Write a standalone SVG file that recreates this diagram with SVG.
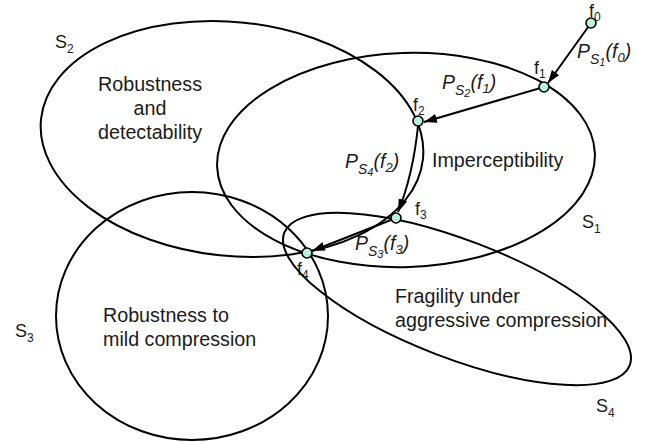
<svg xmlns="http://www.w3.org/2000/svg" width="645" height="442" viewBox="0 0 645 442">
<style>
.set{fill:none;stroke:#000;stroke-width:2}
.t{font-family:"Liberation Sans",Arial,sans-serif;font-size:19.7px;fill:#1a1a1a}
.lab{font-family:"Liberation Sans",Arial,sans-serif;font-size:18px;fill:#1a1a1a}
.p{font-family:"Liberation Sans",Arial,sans-serif;font-size:19.5px;font-style:italic;fill:#1a1a1a}
.arr{fill:none;stroke:#000;stroke-width:2}
.dot{fill:#b8f0dc;stroke:#000;stroke-width:1.6}
</style>
<defs>
<marker id="ah" markerUnits="userSpaceOnUse" markerWidth="14" markerHeight="10" refX="13" refY="4.5" orient="auto">
<path d="M0,0 L13,4.5 L0,9 z" fill="#000"/>
</marker>
</defs>
<g id="S2"><ellipse class="set" cx="232" cy="139" rx="192" ry="117" transform="rotate(6 232 139)"/>
<text class="lab" x="55" y="48">S<tspan font-size="12" dy="5">2</tspan></text>
<text class="t" text-anchor="middle"><tspan x="150" y="91">Robustness</tspan><tspan x="150" y="115">and</tspan><tspan x="150" y="139">detectability</tspan></text></g>
<g id="S1"><ellipse class="set" cx="406" cy="160" rx="189" ry="107" transform="rotate(-2 406 160)"/>
<text class="lab" x="582" y="228">S<tspan font-size="12" dy="5">1</tspan></text>
<text class="t" x="432" y="167">Imperceptibility</text></g>
<g id="S3"><ellipse class="set" cx="192" cy="316" rx="136" ry="124"/>
<text class="lab" x="15" y="337">S<tspan font-size="12" dy="5">3</tspan></text>
<text class="t"><tspan x="103" y="322">Robustness to</tspan><tspan x="103" y="346">mild compression</tspan></text></g>
<g id="S4"><ellipse class="set" cx="457" cy="299" rx="185" ry="59" transform="rotate(21 457 299)"/>
<text class="lab" x="596" y="412">S<tspan font-size="12" dy="5">4</tspan></text>
<text class="t"><tspan x="395" y="303">Fragility under</tspan><tspan x="395" y="327">aggressive compression</tspan></text></g>
<g id="connectors">
<line class="arr" x1="591" y1="23" x2="548" y2="83" marker-end="url(#ah)"/>
<line class="arr" x1="544" y1="87" x2="424" y2="122" marker-end="url(#ah)"/>
<path class="arr" d="M418,126 Q413,175 398,212" marker-end="url(#ah)"/>
<line class="arr" x1="396" y1="218" x2="312" y2="251" marker-end="url(#ah)"/>
<text class="p" x="577" y="58">P<tspan font-size="14" dy="6">S</tspan><tspan font-size="11" dy="2">1</tspan><tspan dy="-8">(f</tspan><tspan font-size="13" dy="4">0</tspan><tspan dy="-4">)</tspan></text>
<text class="p" x="442" y="89">P<tspan font-size="14" dy="6">S</tspan><tspan font-size="11" dy="2">2</tspan><tspan dy="-8">(f</tspan><tspan font-size="13" dy="4">1</tspan><tspan dy="-4">)</tspan></text>
<text class="p" x="345" y="168">P<tspan font-size="14" dy="6">S</tspan><tspan font-size="11" dy="2">4</tspan><tspan dy="-8">(f</tspan><tspan font-size="13" dy="4">2</tspan><tspan dy="-4">)</tspan></text>
<text class="p" x="355" y="250">P<tspan font-size="14" dy="6">S</tspan><tspan font-size="11" dy="2">3</tspan><tspan dy="-8">(f</tspan><tspan font-size="13" dy="4">3</tspan><tspan dy="-4">)</tspan></text>
</g>
<g id="f0"><circle class="dot" cx="591" cy="23" r="5"/><text class="lab" x="589" y="17">f<tspan font-size="12" dy="4">0</tspan></text></g>
<g id="f1"><circle class="dot" cx="544" cy="87" r="5"/><text class="lab" x="534" y="74">f<tspan font-size="12" dy="4">1</tspan></text></g>
<g id="f2"><circle class="dot" cx="418" cy="121" r="5"/><text class="lab" x="413" y="111">f<tspan font-size="12" dy="4">2</tspan></text></g>
<g id="f3"><circle class="dot" cx="396" cy="218" r="5"/><text class="lab" x="415" y="215">f<tspan font-size="12" dy="4">3</tspan></text></g>
<g id="f4"><circle class="dot" cx="307" cy="253" r="5"/><text class="lab" x="297" y="275">f<tspan font-size="12" dy="4">4</tspan></text></g>
</svg>
